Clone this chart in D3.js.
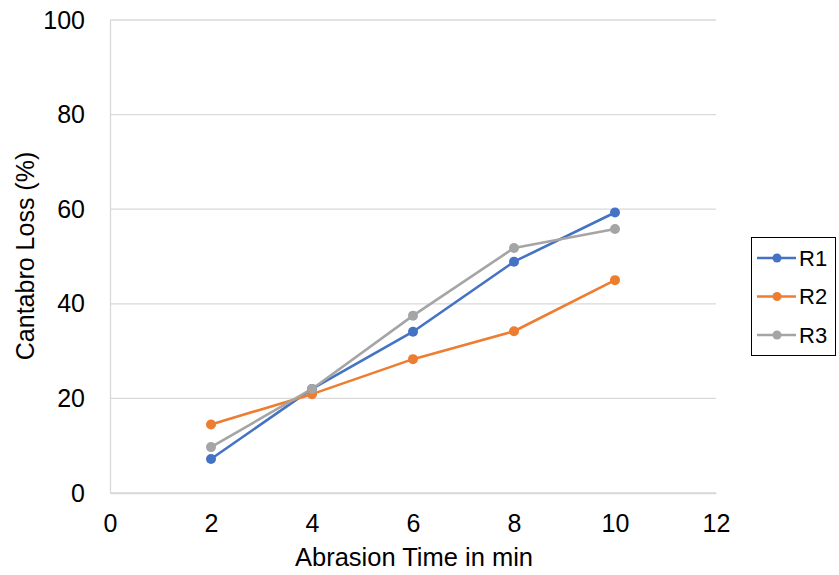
<!DOCTYPE html>
<html><head><meta charset="utf-8">
<script src="https://cdn.jsdelivr.net/npm/d3@7"></script>
<style>
html,body{margin:0;padding:0;background:#fff;}
svg{display:block;font-family:"Liberation Sans",Arial,sans-serif;}
</style></head>
<body>
<svg id="chart" width="839" height="575"></svg>
<script>
const times = [2, 4, 6, 8, 10];
const seriesNames = ["R1", "R2", "R3"];
const r1 = [7.2, 22.0, 34.1, 48.9, 59.3];
const r2 = [14.5, 20.9, 28.3, 34.2, 45.0];
const r3 = [9.7, 22.0, 37.5, 51.8, 55.8];
const xTicks = [0, 2, 4, 6, 8, 10, 12];
const yTicks = [0, 20, 40, 60, 80, 100];
const colors = ["#4472C4", "#ED7D31", "#A5A5A5"];
const xTitle = "Abrasion Time in min";
const yTitle = "Cantabro Loss (%)";

const series = [r1, r2, r3].map((v, i) => ({name: seriesNames[i], color: colors[i], values: v.map((yv, j) => ({x: times[j], y: yv}))}));

const svg = d3.select("#chart");
const mLeft = 110, mRight = 716, mTop = 20, mBottom = 493;
const x = d3.scaleLinear().domain([0, 12]).range([mLeft, mRight]);
const y = d3.scaleLinear().domain([0, 100]).range([mBottom, mTop]);
const fontSize = 25;

// gridlines
svg.append("g").selectAll("line").data(yTicks).join("line")
  .attr("x1", mLeft).attr("x2", mRight)
  .attr("y1", d => y(d)).attr("y2", d => y(d))
  .attr("stroke", "#d9d9d9").attr("stroke-width", 1.3);

// axes
const yAxis = svg.append("g").attr("transform", `translate(${mLeft},0)`)
  .call(d3.axisLeft(y).tickValues(yTicks).tickSize(0).tickPadding(25));
yAxis.select(".domain").attr("stroke", "#d9d9d9").attr("stroke-width", 1.3);
yAxis.selectAll("text").attr("font-size", fontSize).attr("fill", "#000").attr("font-family", "Liberation Sans, Arial, sans-serif");

const xAxis = svg.append("g").attr("transform", `translate(0,${mBottom})`)
  .call(d3.axisBottom(x).tickValues(xTicks).tickSize(0).tickPadding(21));
xAxis.select(".domain").attr("stroke", "#d9d9d9").attr("stroke-width", 1.3);
xAxis.selectAll("text").attr("font-size", fontSize).attr("fill", "#000").attr("font-family", "Liberation Sans, Arial, sans-serif");

// titles
svg.append("text").attr("x", 414).attr("y", 566)
  .attr("text-anchor", "middle").attr("font-size", 25.5).text(xTitle);
svg.append("text").attr("transform", `translate(34,256) rotate(-90)`)
  .attr("text-anchor", "middle").attr("font-size", fontSize).text(yTitle);

// lines & markers
const line = d3.line().x(d => x(d.x)).y(d => y(d.y));
const g = svg.append("g");
series.forEach(s => {
  g.append("path").datum(s.values).attr("d", line)
    .attr("fill", "none").attr("stroke", s.color).attr("stroke-width", 2.6).attr("stroke-linejoin", "round");
});
series.forEach(s => {
  g.append("g").selectAll("circle").data(s.values).join("circle")
    .attr("cx", d => x(d.x)).attr("cy", d => y(d.y)).attr("r", 5)
    .attr("fill", s.color);
});

// legend
const lg = svg.append("g");
lg.append("rect").attr("x", 751.5).attr("y", 237.5).attr("width", 84).attr("height", 118)
  .attr("fill", "#fff").attr("stroke", "#000").attr("stroke-width", 1);
const legY = d3.scalePoint().domain(seriesNames).range([258, 335]);
series.forEach(s => {
  const yy = legY(s.name);
  lg.append("line").attr("x1", 757).attr("x2", 796).attr("y1", yy).attr("y2", yy)
    .attr("stroke", s.color).attr("stroke-width", 2.6);
  lg.append("circle").attr("cx", 777).attr("cy", yy).attr("r", 4.5).attr("fill", s.color);
  lg.append("text").attr("x", 799).attr("y", yy).attr("dy", "0.36em")
    .attr("font-size", 22).text(s.name);
});
</script>
</body></html>
